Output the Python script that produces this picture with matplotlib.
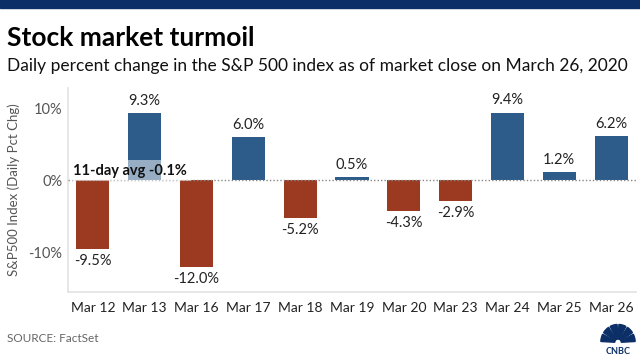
import matplotlib.pyplot as plt
from matplotlib.patches import Rectangle, Wedge

plt.rcParams["font.family"] = ["Lato", "DejaVu Sans"]

dates = ["Mar 12", "Mar 13", "Mar 16", "Mar 17", "Mar 18", "Mar 19",
         "Mar 20", "Mar 23", "Mar 24", "Mar 25", "Mar 26"]
pct_change = [-9.5, 9.3, -12.0, 6.0, -5.2, 0.5, -4.3, -2.9, 9.4, 1.2, 6.2]
avg_label = "11-day avg -0.1%"
yticks = [-10, 0, 10]

blue = "#2d5c8a"
red = "#9b3a21"
gray = "#555555"

fig = plt.figure(figsize=(6.4, 3.6), dpi=100)
fig.patch.set_facecolor("white")

# top banner
fig.patches.append(Rectangle((0, 1 - 8 / 360), 1, 8 / 360, transform=fig.transFigure,
                             color="#0b2f66", zorder=0))
fig.text(7 / 640, 1 - 38 / 360, "Stock market turmoil", fontsize=19, fontweight="bold",
         va="center", ha="left", color="black")
fig.text(7 / 640, 1 - 66 / 360,
         "Daily percent change in the S&P 500 index as of market close on March 26, 2020",
         fontsize=12.5, va="center", ha="left", color="#111111")

ax = fig.add_axes([68 / 640, 1 - 292 / 360, (636 - 68) / 640, (292 - 88) / 360])
x = range(len(dates))
colors = [blue if v >= 0 else red for v in pct_change]
ax.bar(x, pct_change, width=0.64, color=colors, zorder=2)
ax.axhline(0, color="#888888", linestyle=(0, (1, 1.5)), linewidth=1, zorder=3)

for i, v in enumerate(pct_change):
    if v >= 0:
        ax.text(i, v + 0.7, f"{v:.1f}%", ha="center", va="bottom", fontsize=10.5, color="#222222")
    else:
        ax.text(i, v - 0.7, f"{v:.1f}%", ha="center", va="top", fontsize=10.5, color="#222222")

ax.text(-0.38, 0.35, avg_label, ha="left", va="bottom", fontsize=10.5, fontweight="bold",
        color="#111111", zorder=4,
        bbox=dict(facecolor="white", alpha=0.5, edgecolor="none", pad=2.5))

ax.set_xlim(-0.48, len(dates) - 0.52)
ax.set_ylim(-15.5, 12.8)
ax.set_xticks(list(x))
ax.set_xticklabels(dates, fontsize=10, color="#222222")
ax.set_yticks(yticks)
ax.set_yticklabels([f"{t}%" for t in yticks], fontsize=10.5, color=gray)
ax.tick_params(axis="x", length=0, pad=7)
ax.tick_params(axis="y", length=0, pad=4)
ax.set_ylabel("S&P500 Index (Daily Pct Chg)", fontsize=9.5, color=gray, labelpad=6)
for side in ["top", "right"]:
    ax.spines[side].set_visible(False)
for side in ["left", "bottom"]:
    ax.spines[side].set_color("#e3e3e3")
    ax.spines[side].set_linewidth(1.2)

fig.text(7 / 640, 1 - 338 / 360, "SOURCE: FactSet", fontsize=8.5, color="#666666",
         va="center", ha="left")

# CNBC peacock logo (simplified)
logo = fig.add_axes([600 / 640, 1 - 357 / 360, 36 / 640, 36 / 360])
logo.set_xlim(-1.1, 1.1)
logo.set_ylim(-0.9, 1.2)
logo.axis("off")
for k in range(6):
    a0 = 180 - k * 30
    logo.add_patch(Wedge((0, -0.05), 1.05, a0 - 27, a0 - 3, width=0.85, color="#0b2f66"))
logo.text(0, -0.55, "CNBC", ha="center", va="center", fontsize=6.5, fontweight="bold",
          color="#0b2f66")

fig.savefig("out.png", dpi=100)
